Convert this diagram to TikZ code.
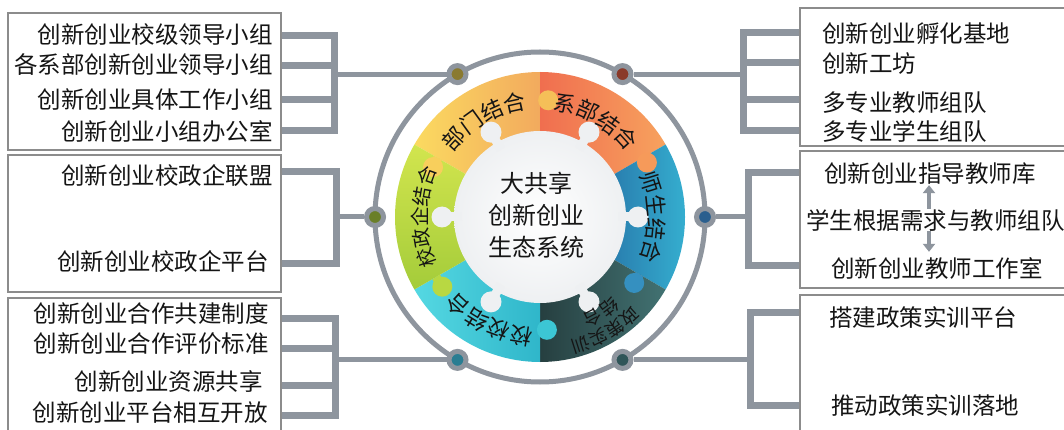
\documentclass[tikz,border=0pt]{standalone}
\usepackage{fontspec}
\setmainfont{Noto Sans CJK SC}
\usetikzlibrary{decorations.text,arrows.meta}
\definecolor{lnk}{HTML}{8E959E}
\definecolor{bxd}{HTML}{8C8C8C}
\definecolor{txc}{HTML}{151515}
\definecolor{dc1}{HTML}{8A7A30}
\definecolor{dc2}{HTML}{8A3A2A}
\definecolor{dc3}{HTML}{6A7F28}
\definecolor{dc4}{HTML}{2A5F8E}
\definecolor{dc5}{HTML}{2A7D92}
\definecolor{dc6}{HTML}{2F5558}
\definecolor{ya}{HTML}{FBDA60}\definecolor{yb}{HTML}{F2AA5E}
\definecolor{oa}{HTML}{F06E4F}\definecolor{ob}{HTML}{F7A25E}
\definecolor{ba}{HTML}{1D4F8F}\definecolor{bb}{HTML}{36B2D2}
\definecolor{da}{HTML}{263F40}\definecolor{db}{HTML}{427272}
\definecolor{ca}{HTML}{55D8E2}\definecolor{cb}{HTML}{2FB6CA}
\definecolor{ga}{HTML}{D2E54E}\definecolor{gb}{HTML}{A4CC3A}
\definecolor{wk}{HTML}{EEF0F2}
\definecolor{kn1}{HTML}{F5BF58}
\definecolor{kn2}{HTML}{F69A5A}
\definecolor{kn3}{HTML}{3590C0}
\definecolor{kn4}{HTML}{3CC6D4}
\definecolor{kn5}{HTML}{B8D842}
\definecolor{kn6}{HTML}{F8CF5C}
\newcommand\LabFont{\fontsize{22}{22}\selectfont}
\newcommand\LabFontS{\fontsize{19.5}{19.5}\selectfont}
\newcommand\LabFontM{\fontsize{18}{18}\selectfont}
\newcommand\PieSeg[4]{\shade[left color=#3, right color=#4] (0,0) -- (#1:145) arc[start angle=#1, end angle=#2, radius=145] -- cycle;}
\newcommand\ArcLab[5]{\path[decorate, decoration={text along path, text align=center, text={|#5\color{txc}|#4}}] (#1:#3) arc[start angle=#1, end angle=#2, radius=#3];}
\newcommand\Knob[4]{\fill[#4] (#1:#3) circle[radius=10]; \draw[#4, line width=9pt] (#1:#3) -- (#2:#3);}
\newcommand\WKnob[1]{\fill[wk] (#1:98) circle[radius=10.5]; \draw[wk, line width=9pt] (#1:78) -- (#1:98);}
\begin{document}
\begin{tikzpicture}[x=1pt,y=1pt,
  lboxs/.style={draw=bxd, line width=1.4pt, inner sep=0, minimum width=273pt},
  rboxs/.style={draw=bxd, line width=1.4pt, inner sep=0, minimum width=280pt},
  tline/.style={inner sep=0, font=\fontsize{23.5}{23.5}\selectfont, text=txc},
  barl/.style={draw=lnk, line width=7pt, line join=miter},
  lnkl/.style={draw=lnk, line width=5pt},
  dotn/.style={circle, draw=lnk, line width=5pt, minimum size=17pt, inner sep=0},
  arrw/.style={draw=lnk, line width=4pt, -{Triangle[width=12pt,length=8pt]}},
]
\useasboundingbox (0,0) rectangle (1064,-430);
\clip (0,0) rectangle (1064,-430);
\fill[white] (0,0) rectangle (1064,-430);

% boxes
\node[lboxs, minimum height=137pt] (LB1) at (144.5,-81.5) {};
\node[lboxs, minimum height=137pt] (LB2) at (144.5,-223.5) {};
\node[lboxs, minimum height=150pt] (LB3) at (144.5,-373) {};
\node[rboxs, minimum height=138pt] (RB1) at (940,-77) {};
\node[rboxs, minimum height=137pt] (RB2) at (940,-219.5) {};
\node[rboxs, minimum height=150pt] (RB3) at (940,-370) {};

% texts left
\node[tline, anchor=east] (L11) at (273,-35) {创新创业校级领导小组};
\node[tline, anchor=east] (L12) at (273,-65) {各系部创新创业领导小组};
\node[tline, anchor=east] (L13) at (273,-100) {创新创业具体工作小组};
\node[tline, anchor=east] (L14) at (273,-132) {创新创业小组办公室};
\node[tline, anchor=east] (L21) at (273,-176) {创新创业校政企联盟};
\node[tline, anchor=east] (L22) at (269,-261) {创新创业校政企平台};
\node[tline, anchor=east] (L31) at (269,-314) {创新创业合作共建制度};
\node[tline, anchor=east] (L32) at (269,-344) {创新创业合作评价标准};
\node[tline, anchor=east] (L33) at (263,-382) {创新创业资源共享};
\node[tline, anchor=east] (L34) at (268,-413) {创新创业平台相互开放};
% texts right
\node[tline, anchor=west] (R11) at (822,-34) {创新创业孵化基地};
\node[tline, anchor=west] (R12) at (822,-64) {创新工坊};
\node[tline, anchor=west] (R13) at (822,-103) {多专业教师组队};
\node[tline, anchor=west] (R14) at (822,-131) {多专业学生组队};
\node[tline, anchor=west] (R21) at (824,-174) {创新创业指导教师库};
\node[tline, anchor=west] (R22) at (806,-220) {学生根据需求与教师组队};
\node[tline, anchor=west] (R23) at (831,-268) {创新创业教师工作室};
\node[tline, anchor=west] (R31) at (829,-318) {搭建政策实训平台};
\node[tline, anchor=west] (R32) at (831,-406) {推动政策实训落地};

\coordinate (ax) at (929,0);
\draw[arrw] (R22.north -| ax) -- (R21.south -| ax);
\draw[arrw, shorten >=5pt] (R22.south -| ax) -- (R23.north -| ax);

% bracket coordinates
\coordinate (bL1a) at (334,-36);  \coordinate (bL1b) at (334,-66);
\coordinate (bL1c) at (334,-100); \coordinate (bL1d) at (334,-131);
\coordinate (bL2a) at (336,-172); \coordinate (bL2b) at (336,-263);
\coordinate (bL3a) at (335,-318); \coordinate (bL3b) at (335,-348);
\coordinate (bL3c) at (335,-385); \coordinate (bL3d) at (335,-415);
\coordinate (bR1a) at (743,-33);  \coordinate (bR1b) at (743,-63);
\coordinate (bR1c) at (743,-100); \coordinate (bR1d) at (743,-131);
\coordinate (bR2a) at (748,-173); \coordinate (bR2b) at (748,-265);
\coordinate (bR3a) at (750,-312); \coordinate (bR3b) at (750,-405);

\draw[barl] (bL1a -| LB1.east) -- (bL1a) -- (bL1d) -- (bL1d -| LB1.east);
\draw[barl] (bL1b -| LB1.east) -- (bL1b);
\draw[barl] (bL1c -| LB1.east) -- (bL1c);
\draw[barl] (bL2a -| LB2.east) -- (bL2a) -- (bL2b) -- (bL2b -| LB2.east);
\draw[barl] (bL3a -| LB3.east) -- (bL3a) -- (bL3d) -- (bL3d -| LB3.east);
\draw[barl] (bL3b -| LB3.east) -- (bL3b);
\draw[barl] (bL3c -| LB3.east) -- (bL3c);
\draw[barl] (bR1a -| RB1.west) -- (bR1a) -- (bR1d) -- (bR1d -| RB1.west);
\draw[barl] (bR1b -| RB1.west) -- (bR1b);
\draw[barl] (bR1c -| RB1.west) -- (bR1c);
\draw[barl] (bR2a -| RB2.west) -- (bR2a) -- (bR2b) -- (bR2b -| RB2.west);
\draw[barl] (bR3a -| RB3.west) -- (bR3a) -- (bR3b) -- (bR3b -| RB3.west);

% central wheel
\begin{scope}[shift={(540,-217)}]
  \draw[lnk, line width=5pt, fill=white] (0,0) circle[radius=165];
  \PieSeg{90}{150}{ya}{yb}
  \PieSeg{30}{90}{oa}{ob}
  \PieSeg{-30}{30}{ba}{bb}
  \PieSeg{270}{330}{da}{db}
  \PieSeg{210}{270}{ca}{cb}
  \shade[top color=ga, bottom color=gb] (0,0) -- (150:145) arc[start angle=150, end angle=210, radius=145] -- cycle;
  \Knob{86}{90}{117}{kn1}
  \Knob{27}{30}{120}{kn2}
  \Knob{-35}{-30}{115}{kn3}
  \Knob{-86.5}{-90}{113}{kn4}
  \Knob{215.5}{210}{120}{kn5}
  \Knob{155}{150}{118}{kn6}
  \shade[inner color=white, outer color=wk] (0,0) circle[radius=86];
  \WKnob{0}\WKnob{60}\WKnob{120}\WKnob{180}\WKnob{240}\WKnob{300}
  \ArcLab{150}{90}{108}{部门结合}{\LabFont}
  \ArcLab{90}{30}{108}{系部结合}{\LabFont}
  \ArcLab{30}{-30}{108}{师生结合}{\LabFont}
  \ArcLab{274}{214}{112}{校校结合}{\LabFont}
  \ArcLab{210}{150}{113}{校政企结合}{\LabFontS}
  \ArcLab{330}{270}{127}{政策实训}{\LabFontM}
  \ArcLab{332.5}{272.5}{107}{结合}{\LabFontM}
  \node[align=center, inner sep=0, font=\fontsize{24}{32}\selectfont, text=txc] (ctr) at (-4,2) {大共享\\创新创业\\生态系统};
  \node[dotn, fill=dc1] (d1) at (120:165) {};
  \node[dotn, fill=dc2] (d2) at (60:165) {};
  \node[dotn, fill=dc3] (d3) at (180:165) {};
  \node[dotn, fill=dc4] (d4) at (0:165) {};
  \node[dotn, fill=dc5] (d5) at (240:165) {};
  \node[dotn, fill=dc6] (d6) at (300:165) {};
\end{scope}

\draw[lnkl] (d1) -- (d1 -| bL1a);
\draw[lnkl] (d3) -- (d3 -| bL2a);
\draw[lnkl] (d5) -- (d5 -| bL3a);
\draw[lnkl] (d2) -- (d2 -| bR1a);
\draw[lnkl] (d4) -- (d4 -| bR2a);
\draw[lnkl] (d6) -- (d6 -| bR3a);
\end{tikzpicture}
\end{document}
